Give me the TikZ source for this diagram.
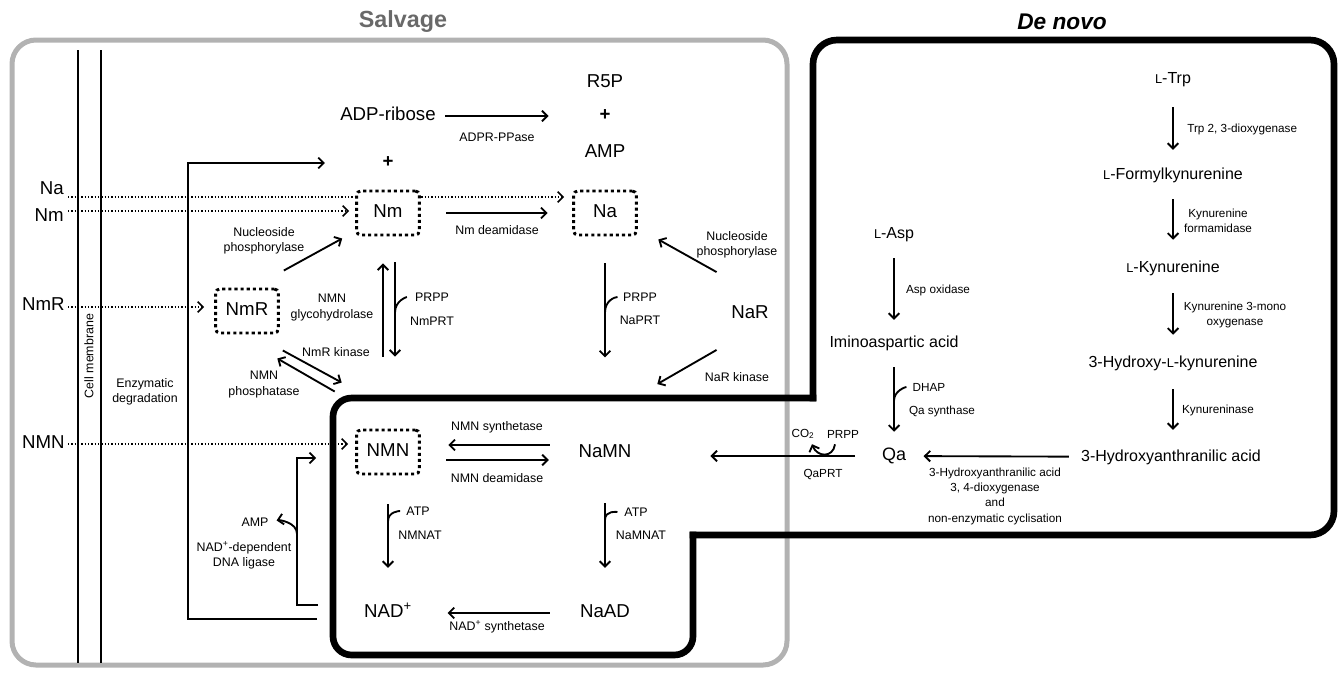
\documentclass[tikz,border=0pt]{standalone}
\usepackage{graphicx}
\usepackage{fontspec}
\setmainfont{Liberation Sans}
\usetikzlibrary{arrows.meta,backgrounds}
\definecolor{salvgray}{RGB}{178,178,178}
\definecolor{titlegray}{RGB}{105,105,105}
\newcommand{\lsc}{\scalebox{0.8}{L}}

\begin{document}
\begin{tikzpicture}[x=0.75pt, y=-0.75pt,
        metab/.style={font=\fontsize{14}{16}\selectfont, inner sep=0pt, text height=10pt, text depth=3pt},
        dnmetab/.style={font=\fontsize{12}{14}\selectfont, inner sep=0pt, text height=8.6pt, text depth=2.6pt},
        pool/.style={metab, draw, fill=white, line width=2.2pt, dash pattern=on 2.3pt off 2.3pt, rounded corners=3pt, minimum width=47pt, minimum height=33pt},
        enz/.style={font=\fontsize{9.3}{11.3}\selectfont, align=center, inner sep=0pt},
        dnenz/.style={font=\fontsize{8.8}{11.5}\selectfont, align=center, inner sep=0pt},
        arrow/.style={-{Straight Barb[length=4pt,width=8pt]}, line width=1.4pt},
        dotarrow/.style={arrow, line width=1.2pt, dash pattern=on 1.1pt off 1.4pt},
        hook/.style={line width=1.4pt},
        frame/.style={line width=5pt, line cap=rect}]

        \useasboundingbox (0,0) rectangle (1338,672);

        % titles
        \node[font=\fontsize{17.5}{20}\selectfont\bfseries, text=titlegray] (salvage) at (403,22) {Salvage};
        \node[font=\fontsize{17}{20}\selectfont\bfseries\itshape] (denovo) at (1062,22) {De novo};

        % salvage metabolites
        \node[metab] (adpr) at (388,116) {ADP-ribose};
        \node[metab] (r5p) at (605,83) {R5P};
        \node[metab, font=\fontsize{14}{16}\selectfont\bfseries] (plusA) at (605,116) {+};
        \node[metab] (amp) at (605,153) {AMP};
        \node[metab, font=\fontsize{14}{16}\selectfont\bfseries] (plusB) at (388,163) {+};
        \node[pool] (nm) at (388,213) {Nm};
        \node[pool] (na) at (605,213) {Na};
        \node[pool] (nmr) at (247,311) {NmR};
        \node[pool] (nmn) at (388,452) {NMN};
        \node[metab] (nar) at (750,314) {NaR};
        \node[metab] (namn) at (605,453) {NaMN};
        \node[metab] (naad) at (605,613) {NaAD};
        \node[metab] (nad) at (388,613) {NAD\textsuperscript{+}};

        % uptake from outside
        \node[metab, anchor=east] (inNa) at (64,190) {Na};
        \node[metab, anchor=east] (inNm) at (64,217) {Nm};
        \node[metab, anchor=east] (inNmR) at (65,306) {NmR};
        \node[metab, anchor=east] (inNMN) at (65,444) {NMN};
        \node[enz, rotate=90] (membrane) at (89,356) {Cell membrane};

        % salvage enzymes
        \node[enz] (adprpp) at (497,137) {ADPR-PPase};
        \node[enz] (nmdeam) at (497,230) {Nm deamidase};
        \node[enz] (nucphA) at (264,240.5) {Nucleoside\\phosphorylase};
        \node[enz] (nucphB) at (737,245) {Nucleoside\\phosphorylase};
        \node[enz] (glyco) at (332,307.5) {NMN\\glycohydrolase};
        \node[enz] (prppA) at (432,297) {PRPP};
        \node[enz] (nmprt) at (432,321) {NmPRT};
        \node[enz] (prppB) at (640,297) {PRPP};
        \node[enz] (naprt) at (640,320) {NaPRT};
        \node[enz] (nmrkin) at (336,352) {NmR kinase};
        \node[enz] (nmnphos) at (264,384.5) {NMN\\phosphatase};
        \node[enz] (narkin) at (737,377) {NaR kinase};
        \node[enz] (enzdeg) at (145,392) {Enzymatic\\degradation};
        \node[enz] (nmnsyn) at (497,427) {NMN synthetase};
        \node[enz] (nmndeam) at (497,478) {NMN deamidase};
        \node[enz] (atpA) at (418,511) {ATP};
        \node[enz] (nmnat) at (420,535) {NMNAT};
        \node[enz] (atpB) at (636,512) {ATP};
        \node[enz] (namnat) at (641,535) {NaMNAT};
        \node[enz] (ampout) at (255,522) {AMP};
        \node[enz] (ligase) at (244,555.5) {NAD\textsuperscript{+}-dependent\\DNA ligase};
        \node[enz] (nadsyn) at (497,627) {NAD\textsuperscript{+} synthetase};

        % de novo metabolites
        \node[dnmetab] (trp) at (1173,79) {\lsc-Trp};
        \node[dnmetab] (fkyn) at (1173,175) {\lsc-Formylkynurenine};
        \node[dnmetab] (kyn) at (1173,268) {\lsc-Kynurenine};
        \node[dnmetab] (hkyn) at (1173,363) {3-Hydroxy-\lsc-kynurenine};
        \node[dnmetab] (haa) at (1171,457) {3-Hydroxyanthranilic acid};
        \node[dnmetab] (asp) at (894,234) {\lsc-Asp};
        \node[dnmetab] (imino) at (894,343) {Iminoaspartic acid};
        \node[dnmetab, font=\fontsize{13.5}{16}\selectfont] (qa) at (894,456) {Qa};

        % de novo enzymes
        \node[dnenz, anchor=west] (trpdiox) at (1187,129) {Trp 2, 3-dioxygenase};
        \node[dnenz] (kynform) at (1218,220.5) {Kynurenine\\formamidase};
        \node[dnenz] (kynmono) at (1235,315) {Kynurenine 3-mono\\oxygenase};
        \node[dnenz] (kynase) at (1218,410) {Kynureninase};
        \node[dnenz] (aspox) at (938,290) {Asp oxidase};
        \node[dnenz] (dhap) at (929,387) {DHAP};
        \node[dnenz] (qasyn) at (942,411) {Qa synthase};
        \node[dnenz] (haadiox) at (995,496) {3-Hydroxyanthranilic acid\\3, 4-dioxygenase\\and\\non-enzymatic cyclisation};
        \node[dnenz] (co2) at (803,434) {CO\textsubscript{2}};
        \node[dnenz] (prppC) at (843,434) {PRPP};
        \node[dnenz] (qaprt) at (823,475) {QaPRT};

        \coordinate (degstart) at (317,619);
        \coordinate (degturn) at (188,163);
        \coordinate (ligstart) at (318,605);
        \coordinate (ligturn) at (297,458);
        \coordinate (ligamp) at (297,534);

        % salvage reactions
        \draw[arrow, shorten <=7pt, shorten >=38pt] (adpr) -- (plusA);
        \draw[arrow, shorten <=19pt, shorten >=18.4pt] (nm) -- (na);
        \draw[arrow, shorten >=43pt] (degstart) -| (degturn) -- (plusB);
        \draw[arrow] (ligstart) -| (ligturn) -- ([shift={(-39,6)}]nmn.west);
        \draw[arrow, shorten >=6pt] (ligamp) .. controls +(0,-12) and +(10,-2) .. (ampout.east);
        \draw[arrow] ([shift={(4,-17)}]nmr.north east) -- ([shift={(-13,2)}]nm.south west);
        \draw[arrow] ([shift={(-5,-72)}]nmn.north) -- ([shift={(-5,27)}]nm.south);
        \draw[arrow] ([shift={(7,26)}]nm.south) -- ([shift={(7,-72)}]nmn.north);
        \draw[hook, shorten >=6pt] ([shift={(7,76)}]nm.south) .. controls +(0,-12) and +(-8,0) .. (prppA.west);
        \draw[arrow] ([shift={(3,16)}]nmr.south east) -- ([shift={(-13.5,-46)}]nmn.north west);
        \draw[arrow] ([shift={(-20.5,-37)}]nmn.north west) -- ([shift={(-2.5,24)}]nmr.south east);
        \draw[arrow, shorten <=20pt, shorten >=65pt] (na) -- (namn);
        \draw[hook, shorten >=4pt] ([shift={(0,76)}]na.south) .. controls +(0,-12) and +(-8,0) .. (prppB.west);
        \draw[arrow] ([shift={(-14.5,-33)}]nar.north west) -- ([shift={(20.5,3)}]na.south east);
        \draw[arrow] ([shift={(-14.5,27)}]nar.south west) -- ([shift={(25.6,-60)}]namn.north east);
        \draw[arrow] ([shift={(-28.5,-8)}]namn.west) -- ([shift={(27.5,-7)}]nmn.east);
        \draw[arrow] ([shift={(25.5,8)}]nmn.east) -- ([shift={(-29.5,7)}]namn.west);
        \draw[arrow, shorten <=21.75pt, shorten >=27.2pt] (nmn) -- (nad);
        \draw[hook, shorten >=4.5pt] ([shift={(0,46)}]nmn.south) .. controls +(0,-10) and +(-7,0) .. (atpA.west);
        \draw[arrow, shorten <=31pt, shorten >=27.2pt] (namn) -- (naad);
        \draw[hook, shorten >=5pt] ([shift={(0,58)}]namn.south) .. controls +(0,-10) and +(-7,0) .. (atpB.west);
        \draw[arrow, shorten <=22.5pt, shorten >=26.6pt] (naad) -- (nad);

        % de novo reactions
        \draw[arrow, shorten <=15.4pt, shorten >=13.1pt] (trp) -- (fkyn);
        \draw[arrow, shorten <=12.4pt, shorten >=15.4pt] (fkyn) -- (kyn);
        \draw[arrow, shorten <=13.1pt, shorten >=15.4pt] (kyn) -- (hkyn);
        \draw[arrow, shorten <=13.9pt, shorten >=14.6pt] (hkyn) -- (hkyn |- haa.north);
        \draw[arrow, shorten <=12.4pt, shorten >=11.6pt] (asp) -- (imino);
        \draw[arrow, shorten <=12.4pt, shorten >=12.4pt] (imino) -- (qa);
        \draw[hook, shorten >=4.5pt] ([shift={(0,50)}]imino.south) .. controls +(0,-10) and +(-7,0) .. (dhap.west);
        \draw[arrow, shorten <=9pt, shorten >=13pt] (haa) -- (qa);
        \draw[arrow, shorten <=20pt, shorten >=59pt] (qa) -- (qa -| namn.east);
        \draw[arrow] ([shift={(-8,6)}]prppC.south) .. controls +(-2,14) and +(5,13) .. ([shift={(9,5)}]co2.south);

        \begin{scope}[on background layer]
            % compartments
            \draw[salvgray, line width=3.75pt, rounded corners=18pt] (12,40) rectangle (787,665);
            \draw[frame, rounded corners=18pt] (813,398) -- (813,40) -- (1334,40) -- (1334,535) -- (693,535);
            \draw[frame, rounded corners=14pt] (693,535) -- (693,655) -- (333,655) -- (333,398) -- (813,398);
            \draw[line width=1.5pt] (78,50) -- (78,663);
            \draw[line width=1.5pt] (101,50) -- (101,663);
            % uptake
            \draw[dotarrow] ([shift={(4,7)}]inNa.east) -- ([shift={(-8,-16)}]na.west);
            \draw[dotarrow] ([shift={(4,-6)}]inNm.east) -- ([shift={(-6,-2)}]nm.west);
            \draw[dotarrow] ([shift={(3,1)}]inNmR.east) -- ([shift={(-10,-4)}]nmr.west);
            \draw[dotarrow] ([shift={(3,0)}]inNMN.east) -- ([shift={(-7,-8)}]nmn.west);
        \end{scope}

    \end{tikzpicture}
\end{document}
